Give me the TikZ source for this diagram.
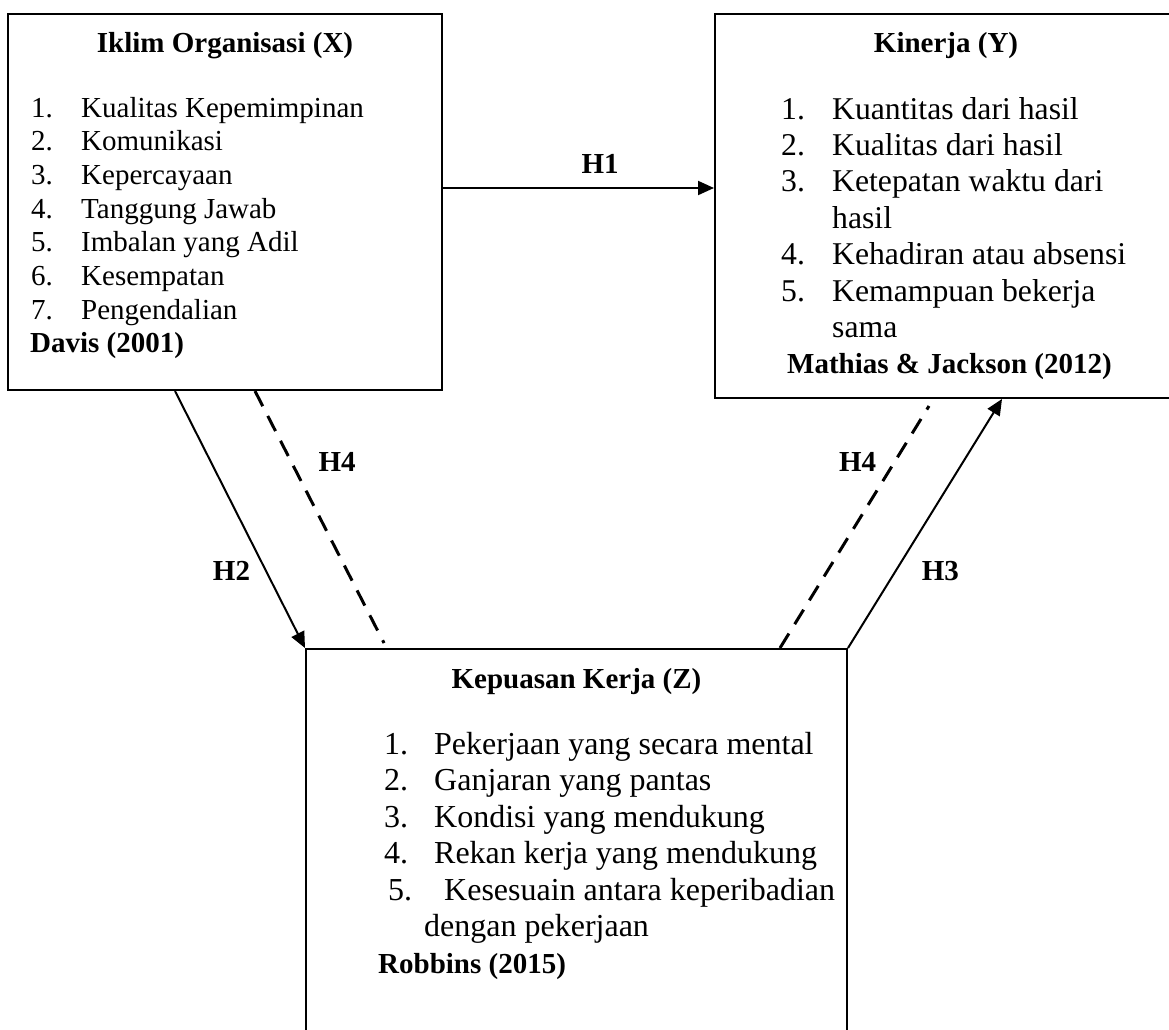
\documentclass[tikz,border=0pt]{standalone}
\usepackage{fontspec}
\setmainfont{Liberation Serif}
\usepackage{tikz}
\usetikzlibrary{arrows.meta, positioning}
\newcommand{\titlefont}{\fontsize{29}{34}\selectfont\bfseries}
\newcommand{\xlistfont}{\fontsize{29}{33.7}\selectfont}
\newcommand{\ylistfont}{\fontsize{31.7}{36.4}\selectfont}
\newcommand{\zlistfont}{\fontsize{32}{36.5}\selectfont}
\tikzset{
    varbox/.style={
        rectangle,
        draw=black,
        line width=2pt,
        inner sep=0pt
    },
    titletext/.style={
        inner sep=0pt,
        anchor=base,
        font=\titlefont
    },
    listtext/.style={
        inner sep=0pt,
        anchor=base west
    },
    hlabel/.style={
        inner sep=0pt,
        font=\titlefont
    },
    arrow/.style={
        -{Triangle[length=16pt, width=14pt]},
        line width=2pt,
        draw=black
    },
    dashline/.style={
        line width=3pt,
        dash pattern=on 17pt off 11pt,
        draw=black
    }
}

\begin{document}
\begin{tikzpicture}[x=1pt, y=-1pt]
    \useasboundingbox (0,0) rectangle (1169,1029);

    % variable boxes
    \node[varbox, minimum width=434pt, minimum height=376pt] (X) at (225,202) {};
    \node[varbox, minimum width=462pt, minimum height=384pt, right=271pt of X.north east, anchor=north west] (Y) {};
    \node[varbox, minimum width=541pt, minimum height=420pt, below right=257pt and -138pt of X.south east, anchor=north west] (Z) {};

    % box contents
    \node[titletext] (Xtitle) at ([yshift=-39pt]X.north) {Iklim Organisasi (X)};
    \node[listtext, font=\xlistfont] (Xlist) at ([xshift=24pt, yshift=-104pt]X.north west) {%
        \begin{tabular}[t]{@{}p{50pt}@{}l@{}}
        1. & Kualitas Kepemimpinan\\
        2. & Komunikasi\\
        3. & Kepercayaan\\
        4. & Tanggung Jawab\\
        5. & Imbalan yang Adil\\
        6. & Kesempatan\\
        7. & Pengendalian\\
        \multicolumn{2}{@{\hspace{-1pt}}l@{}}{\bfseries Davis (2001)}
        \end{tabular}};

    \node[titletext] (Ytitle) at ([yshift=-39pt]Y.north) {Kinerja (Y)};
    \node[listtext, font=\ylistfont] (Ylist) at ([xshift=67pt, yshift=-106pt]Y.north west) {%
        \begin{tabular}[t]{@{}p{51pt}@{}l@{}}
        1. & Kuantitas dari hasil\\
        2. & Kualitas dari hasil\\
        3. & Ketepatan waktu dari\\
           & hasil\\
        4. & Kehadiran atau absensi\\
        5. & Kemampuan bekerja\\
           & sama\\
        \multicolumn{2}{@{\hspace{6pt}}l@{}}{\titlefont Mathias \& Jackson (2012)}
        \end{tabular}};

    \node[titletext] (Ztitle) at ([yshift=-40pt]Z.north) {Kepuasan Kerja (Z)};
    \node[listtext, font=\zlistfont] (Zlist) at ([xshift=79pt, yshift=-106pt]Z.north west) {%
        \begin{tabular}[t]{@{}p{50pt}@{}l@{}}
        1. & Pekerjaan yang secara mental\\
        2. & Ganjaran yang pantas\\
        3. & Kondisi yang mendukung\\
        4. & Rekan kerja yang mendukung\\
        \hspace*{4pt}5. & \hspace*{10pt}Kesesuain antara keperibadian\\
        \multicolumn{2}{@{\hspace{40pt}}l@{}}{dengan pekerjaan}\\
        \multicolumn{2}{@{\hspace{-6pt}}l@{}}{\titlefont Robbins (2015)}
        \end{tabular}};

    % hypotheses
    \draw[arrow] ([yshift=14pt]X.east) -- node[hlabel, pos=0.58, above=14pt] {H1} ([yshift=18pt]Y.west);
    \draw[arrow] ([xshift=-50pt]X.south) -- node[hlabel, pos=0.70, left=15pt] {H2} (Z.north west);
    \draw[dashline] ([xshift=30pt]X.south) -- node[hlabel, pos=0.28, right=26pt] {H4} ([xshift=79pt, yshift=5pt]Z.north west);
    \draw[dashline] ([xshift=-68pt]Z.north east) -- node[hlabel, pos=0.77, left=17pt] {H4} ([xshift=215pt, yshift=-7pt]Y.south west);
    \draw[arrow] (Z.north east) -- node[hlabel, pos=0.31, right=25pt] {H3} ([xshift=288pt]Y.south west);
\end{tikzpicture}
\end{document}
